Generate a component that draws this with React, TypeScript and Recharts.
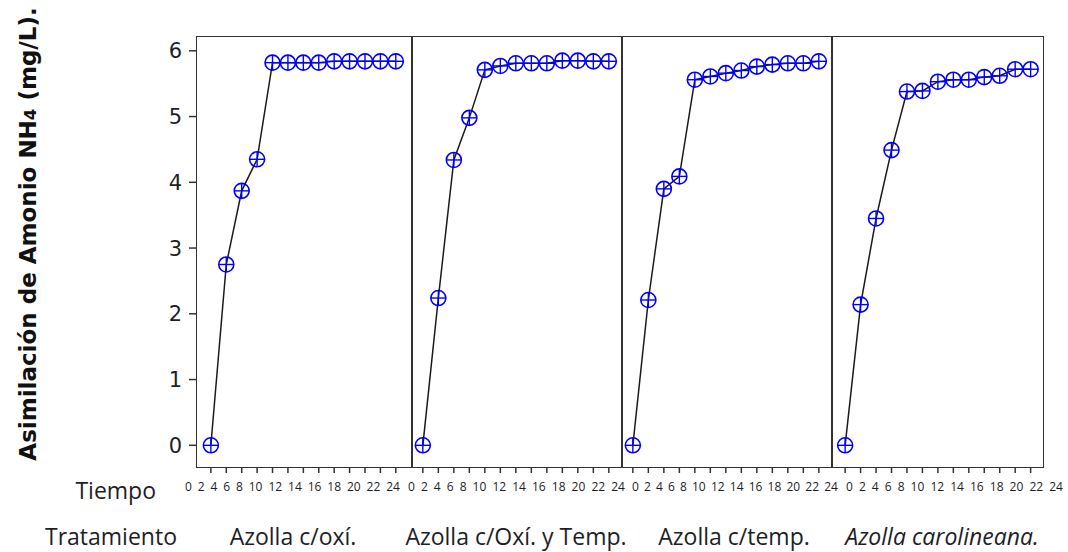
import { LineChart, Line, XAxis, YAxis } from 'recharts';

const tiempo = [0, 2, 4, 6, 8, 10, 12, 14, 16, 18, 20, 22, 24];
const xTicks = [0, 2, 4, 6, 8, 10, 12, 14, 16, 18, 20, 22, 24];
const yTicks = [0, 1, 2, 3, 4, 5, 6];

const oxi = [0, 2.75, 3.87, 4.35, 5.82, 5.82, 5.82, 5.82, 5.84, 5.84, 5.84, 5.84, 5.84];
const oxiTemp = [0, 2.24, 4.34, 4.98, 5.71, 5.77, 5.81, 5.81, 5.81, 5.85, 5.85, 5.84, 5.84];
const temp = [0, 2.21, 3.9, 4.09, 5.56, 5.61, 5.66, 5.7, 5.76, 5.79, 5.81, 5.81, 5.84];
const carol = [0, 2.14, 3.45, 4.49, 5.38, 5.39, 5.53, 5.56, 5.56, 5.6, 5.62, 5.72, 5.72];

const treatments = ['Azolla c/oxí.', 'Azolla c/Oxí. y Temp.', 'Azolla c/temp.', 'Azolla carolineana.'];
const series = [oxi, oxiTemp, temp, carol];

const FRAME = '#333333';
const BLUE = '#0000FF';
const TEXT = '#1e1e28';
const TOP = 37;
const PLOT_H = 430;
const X_AXIS_H = 40;
const Y_AXIS_W = 60;
const SIDE_PAD = 25;
const Y_DOMAIN: [number, number] = [-0.33, 6.21];
const TICK_FONT = 12;
const DIGIT_W = 6.9;

// labels under each panel are packed like a line of text, not under their tick
const panels = [
  { left: 197, width: 215, domain: [-1.8, 26.1] as [number, number], labels: [185, 400], center: 293 },
  { left: 412, width: 210, domain: [-1.4, 25.7] as [number, number], labels: [408, 625], center: 516 },
  { left: 622, width: 210, domain: [-1.4, 25.7] as [number, number], labels: [632, 838], center: 734 },
  { left: 832, width: 211, domain: [-1.7, 25.6] as [number, number], labels: [846, 1063], center: 942 },
];

const labelWidths = xTicks.map((t) => String(t).length * DIGIT_W);
const totalLabelW = labelWidths.reduce((a, b) => a + b, 0);

function labelCenter(span: number[], idx: number) {
  const gap = (span[1] - span[0] - totalLabelW) / (xTicks.length - 1);
  let x = span[0];
  for (let i = 0; i < idx; i++) x += labelWidths[i] + gap;
  return x + labelWidths[idx] / 2;
}

const CrossCircle = (props: any) => {
  const { cx, cy } = props;
  if (cx == null || cy == null) return null;
  const r = 7.5;
  return (
    <g>
      <circle cx={cx} cy={cy} r={r} fill="none" stroke={BLUE} strokeWidth={1.6} />
      <line x1={cx - r} y1={cy} x2={cx + r} y2={cy} stroke={BLUE} strokeWidth={1.4} />
      <line x1={cx} y1={cy - r} x2={cx} y2={cy + r} stroke={BLUE} strokeWidth={1.4} />
    </g>
  );
};

function Panel({ index }: { index: number }) {
  const p = panels[index];
  const first = index === 0;
  const data = tiempo.map((t, i) => ({ t, v: series[index][i] }));
  const yw = first ? Y_AXIS_W : 0;
  const leftPad = first ? 0 : SIDE_PAD;
  const chartLeft = p.left - yw - leftPad;

  const TimeTick = (props: any) => {
    const { y, payload, index: i } = props;
    const cx = labelCenter(p.labels, i) - chartLeft;
    return (
      <text x={cx} y={y} dy="0.71em" textAnchor="middle" fontSize={TICK_FONT} fill={TEXT} fontFamily="Open Sans">
        {payload.value}
      </text>
    );
  };

  return (
    <div style={{ position: 'absolute', left: chartLeft, top: TOP }}>
      <LineChart
        width={p.width + yw + leftPad + SIDE_PAD}
        height={PLOT_H + X_AXIS_H}
        data={data}
        margin={{ top: 0, right: SIDE_PAD, bottom: 0, left: leftPad }}
      >
        <XAxis
          dataKey="t"
          type="number"
          domain={p.domain}
          allowDataOverflow
          ticks={xTicks}
          interval={0}
          height={X_AXIS_H}
          axisLine={false}
          tickSize={6}
          tickMargin={9}
          tickLine={{ stroke: FRAME, strokeWidth: 1.5 }}
          tick={<TimeTick />}
        />
        <YAxis
          hide={!first}
          width={yw}
          type="number"
          domain={Y_DOMAIN}
          allowDataOverflow
          ticks={yTicks}
          interval={0}
          axisLine={false}
          tickSize={8}
          tickMargin={7}
          tickLine={{ stroke: FRAME, strokeWidth: 1.5 }}
          tick={{ fontSize: 21, fill: TEXT, fontFamily: 'DejaVu Sans' }}
        />
        <Line
          dataKey="v"
          stroke="#1a1a1a"
          strokeWidth={1.5}
          dot={<CrossCircle />}
          activeDot={false}
          isAnimationActive={false}
        />
      </LineChart>
    </div>
  );
}

export default function App() {
  const right = panels[3].left + panels[3].width;
  return (
    <div style={{ position: 'absolute', left: 0, top: 0, width: 1068, height: 552, background: '#fff', overflow: 'hidden' }}>
      {panels.map((_, i) => (
        <Panel key={i} index={i} />
      ))}
      <div
        style={{
          position: 'absolute',
          left: panels[0].left - 1,
          top: TOP - 1,
          width: right - panels[0].left + 2,
          height: PLOT_H + 2,
          border: `1.5px solid ${FRAME}`,
          boxSizing: 'border-box',
          pointerEvents: 'none',
        }}
      />
      {panels.slice(1).map((p, i) => (
        <div
          key={i}
          style={{ position: 'absolute', left: p.left - 1, top: TOP, width: 1.5, height: PLOT_H, background: FRAME }}
        />
      ))}
      <div
        style={{
          position: 'absolute',
          left: 28,
          top: 234,
          transform: 'translate(-50%, -50%) rotate(-90deg)',
          whiteSpace: 'nowrap',
          fontFamily: 'DejaVu Sans',
          fontWeight: 'bold',
          fontSize: 23,
          color: '#111',
        }}
      >
        Asimilación de Amonio NH<span style={{ fontSize: '0.72em' }}>4</span> (mg/L).
      </div>
      <div
        style={{ position: 'absolute', right: 1068 - 156, top: 474, fontFamily: 'Open Sans', fontSize: 23, color: TEXT }}
      >
        Tiempo
      </div>
      <div
        style={{ position: 'absolute', left: 45, top: 520, fontFamily: 'Open Sans', fontSize: 23, color: TEXT }}
      >
        Tratamiento
      </div>
      {treatments.map((t, i) => (
        <div
          key={t}
          style={{
            position: 'absolute',
            left: panels[i].center,
            top: 520,
            transform: 'translateX(-50%)',
            whiteSpace: 'nowrap',
            fontFamily: 'Open Sans',
            fontSize: 23,
            fontStyle: i === 3 ? 'italic' : 'normal',
            color: TEXT,
          }}
        >
          {t}
        </div>
      ))}
    </div>
  );
}
